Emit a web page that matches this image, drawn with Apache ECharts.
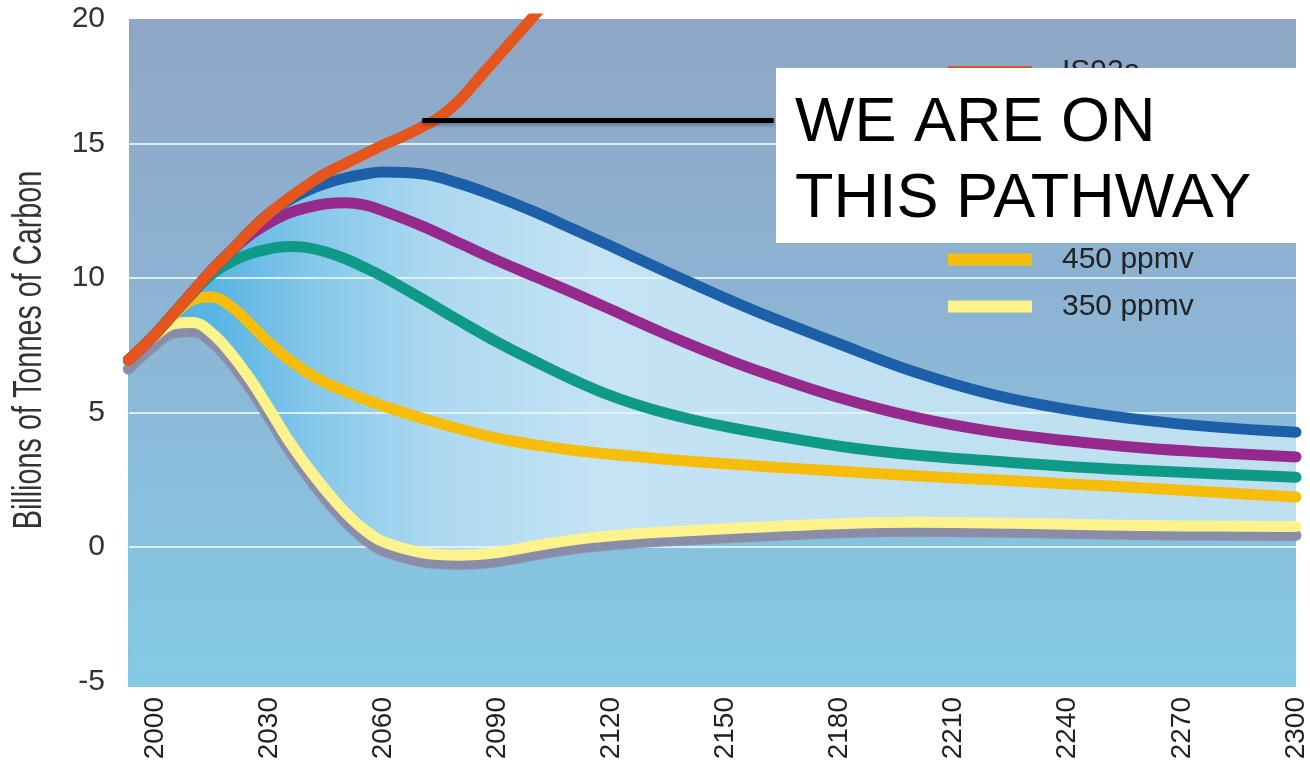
<!DOCTYPE html>
<html>
<head>
<meta charset="utf-8">
<title>Carbon emission pathways</title>
<script src="https://cdn.jsdelivr.net/npm/echarts@6/dist/echarts.min.js"></script>
<style>
  html, body { margin: 0; padding: 0; background: #ffffff; }
  #chart { width: 1310px; height: 765px; }
</style>
</head>
<body>
<div id="chart"></div>
<script>
// Sample years shared by the stabilisation scenarios
const years = [1993, 2000, 2005, 2010, 2015, 2020, 2025, 2030, 2035, 2040, 2045, 2050, 2055, 2060,
               2070, 2080, 2090, 2100, 2110, 2120, 2130, 2140, 2150, 2160,
               2180, 2200, 2220, 2240, 2260, 2280, 2300];

// Emissions (billions of tonnes of carbon per year) for each stabilisation level
const ppmv350 = [6.95, 7.85, 8.3, 8.35, 7.95, 7.2, 6.25, 5.15, 4.0, 3.0, 2.1, 1.3, 0.65, 0.2,
                 -0.2, -0.3, -0.2, 0.05, 0.27, 0.42, 0.53, 0.61, 0.68, 0.75,
                 0.87, 0.92, 0.9, 0.85, 0.8, 0.78, 0.77];
const ppmv450 = [6.95, 7.9, 8.65, 9.2, 9.3, 8.95, 8.3, 7.6, 7.0, 6.5, 6.1, 5.8, 5.5, 5.25,
                 4.8, 4.4, 4.05, 3.8, 3.6, 3.45, 3.32, 3.2, 3.1, 3.0,
                 2.82, 2.65, 2.5, 2.35, 2.2, 2.03, 1.86];
const ppmv550 = [6.95, 7.9, 8.7, 9.45, 10.15, 10.6, 10.9, 11.08, 11.17, 11.13, 10.97, 10.72, 10.4, 10.05,
                 9.25, 8.42, 7.62, 6.9, 6.22, 5.62, 5.15, 4.78, 4.48, 4.22,
                 3.75, 3.42, 3.2, 3.0, 2.85, 2.72, 2.6];
const ppmv650 = [6.95, 7.9, 8.7, 9.5, 10.3, 11.0, 11.6, 12.05, 12.4, 12.62, 12.76, 12.8, 12.72, 12.5,
                 11.95, 11.3, 10.65, 10.05, 9.45, 8.82, 8.18, 7.57, 7.0, 6.48,
                 5.55, 4.82, 4.3, 3.95, 3.68, 3.5, 3.35];
const ppmv750 = [6.95, 7.9, 8.7, 9.5, 10.3, 11.0, 11.75, 12.4, 12.88, 13.25, 13.52, 13.72, 13.86, 13.94,
                 13.88, 13.52, 13.02, 12.45, 11.82, 11.18, 10.52, 9.88, 9.25, 8.65,
                 7.55, 6.5, 5.68, 5.12, 4.72, 4.45, 4.27];

// Business-as-usual scenario (runs off the top of the scale)
const is92aYears = [1993, 2000, 2005, 2010, 2015, 2020, 2025, 2030, 2035, 2040, 2045, 2050, 2055, 2060,
                    2065, 2070, 2075, 2080, 2085, 2090, 2095, 2100, 2105];
const is92a = [6.95, 7.9, 8.7, 9.5, 10.3, 11.0, 11.75, 12.4, 12.95, 13.45, 13.9, 14.25, 14.6, 14.95,
               15.25, 15.6, 16.0, 16.6, 17.4, 18.2, 19.0, 19.8, 20.6];

// Axis ticks
const xTicks = [2000, 2030, 2060, 2090, 2120, 2150, 2180, 2210, 2240, 2270, 2300];
const yTicks = [-5, 0, 5, 10, 15, 20];
const gridValues = [0, 5, 10, 15];

// Callout
const calloutLines = ['WE ARE ON', 'THIS PATHWAY'];
const calloutPoint = [2070.3, 15.87];
const calloutEnd = [2162.7, 15.87];

const X_MIN = 1993.2, X_MAX = 2300;
const Y_MIN = -5.2, Y_MAX = 19.63;

const FONT = "'Liberation Sans', Arial, Helvetica, sans-serif";
const SMOOTH = 0.4;

const pairs = (xs, ys) => xs.map((x, i) => [x, ys[i]]);

const colors = {
  is92a: '#e4561e',
  p750: '#1d5fa8',
  p650: '#952a8c',
  p550: '#0f9a88',
  p450: '#f6bd0b',
  p350: '#fdf38c',
  shadow: '#8a8da8'
};

// Plot background, also reused to mask the fan below the lowest pathway
const bgStops = [
  { offset: 0, color: '#8fa6c6' },
  { offset: 0.4, color: '#8db3d2' },
  { offset: 0.72, color: '#89c0dc' },
  { offset: 1, color: '#84cae3' }
];
const GRID = { left: 129, right: 13, top: 19, bottom: 78 };
const CHART_H = 765;

const LW = 11;

function lineSeries(name, data, color, z, extra) {
  return Object.assign({
    name: name,
    type: 'line',
    data: data,
    smooth: SMOOTH,
    showSymbol: false,
    symbol: 'none',
    z: z,
    itemStyle: { color: color },
    lineStyle: { color: color, width: LW, cap: 'round', join: 'round' },
    emphasis: { disabled: true },
    clip: true
  }, extra || {});
}

function fillSeries(name, data, fill, z, extra) {
  return Object.assign({
    name: name,
    type: 'line',
    data: data,
    smooth: SMOOTH,
    showSymbol: false,
    symbol: 'none',
    silent: true,
    z: z,
    lineStyle: { width: 1, opacity: 0 },
    itemStyle: { color: 'transparent' },
    areaStyle: { origin: 'start', opacity: 1, color: fill },
    emphasis: { disabled: true },
    clip: true
  }, extra || {});
}

const chart = echarts.init(document.getElementById('chart'), null, { renderer: 'canvas' });

const option = {
  animation: false,
  backgroundColor: '#ffffff',
  grid: {
    left: GRID.left, right: GRID.right, top: GRID.top, bottom: GRID.bottom,
    show: true,
    borderWidth: 0,
    backgroundColor: {
      type: 'linear', x: 0, y: 0, x2: 0, y2: 1,
      colorStops: bgStops
    }
  },
  xAxis: {
    type: 'value',
    min: X_MIN, max: X_MAX,
    axisLine: { show: false },
    axisTick: { show: false },
    splitLine: { show: false },
    axisLabel: {
      customValues: xTicks,
      rotate: 90,
      margin: 10,
      color: '#222',
      fontFamily: FONT,
      fontSize: 28,
      formatter: v => String(Math.round(v))
    }
  },
  yAxis: {
    type: 'value',
    min: Y_MIN, max: Y_MAX,
    axisLine: { show: false },
    axisTick: { show: false },
    splitLine: { show: false },
    axisLabel: {
      customValues: yTicks.map(v => Math.min(Math.max(v, Y_MIN), Y_MAX)),
      margin: 24,
      color: '#333',
      fontFamily: FONT,
      fontSize: 30,
      formatter: v => String(Math.round(v / 5) * 5)
    }
  },
  legend: {
    orient: 'vertical',
    left: 948,
    top: 57,
    padding: 0,
    itemWidth: 84,
    itemHeight: 12,
    itemGap: 16.9,
    icon: 'rect',
    data: ['IS92a', '750 ppmv', '650 ppmv', '550 ppmv', '450 ppmv', '350 ppmv'],
    itemStyle: { shadowBlur: 0, shadowOffsetY: 0, shadowColor: 'transparent', borderWidth: 0 },
    lineStyle: { shadowBlur: 0, shadowOffsetY: 0, shadowColor: 'transparent' },
    textStyle: {
      color: '#222',
      fontFamily: FONT,
      fontSize: 30,
      lineHeight: 30,
      padding: [0, 0, 0, 25]
    },
    selectedMode: false
  },
  graphic: [
    {
      type: 'text',
      x: 30, y: 350,
      rotation: Math.PI / 2,
      scaleX: 0.72,
      z: 10,
      style: {
        text: 'Billions of Tonnes of Carbon',
        font: "40px " + FONT,
        fill: '#333',
        align: 'center',
        verticalAlign: 'middle'
      }
    },
    {
      type: 'group',
      z: 100,
      children: [
        {
          type: 'rect',
          shape: { x: 776, y: 68, width: 534, height: 175 },
          style: { fill: '#ffffff' },
          z: 100
        },
        {
          type: 'text',
          z: 101,
          style: {
            x: 795, y: 124,
            text: calloutLines[0],
            font: "63px " + FONT,
            fill: '#000',
            verticalAlign: 'middle'
          }
        },
        {
          type: 'text',
          z: 101,
          style: {
            x: 795, y: 200,
            text: calloutLines[1],
            font: "63px " + FONT,
            fill: '#000',
            verticalAlign: 'middle'
          }
        }
      ]
    }
  ],
  series: [
    // Shaded fan: fill below the highest pathway ...
    fillSeries('fanTop', pairs(years, ppmv750), {
      type: 'linear', x: 0, y: 0, x2: 1, y2: 0,
      colorStops: [
        { offset: 0, color: '#4aaee0' },
        { offset: 0.08, color: '#5cb6e3' },
        { offset: 0.16, color: '#86c8ea' },
        { offset: 0.26, color: '#acd8f0' },
        { offset: 0.4, color: '#c4e3f4' },
        { offset: 1, color: '#bddff0' }
      ]
    }, 2),
    // ... then restore the plot background below the lowest pathway
    fillSeries('fanCut', pairs(years, ppmv350), {
      type: 'linear', global: true,
      x: 0, y: GRID.top, x2: 0, y2: CHART_H - GRID.bottom,
      colorStops: bgStops
    }, 2, {
      markLine: {
        silent: true,
        symbol: 'none',
        z: 3,
        label: { show: false },
        lineStyle: { color: 'rgba(225,246,250,0.9)', width: 2, type: 'solid' },
        data: gridValues.map(v => ({ yAxis: v }))
      }
    }),
    lineSeries('350 ppmv', pairs(years, ppmv350), colors.p350, 4, {
      lineStyle: {
        color: colors.p350, width: LW, cap: 'round', join: 'round',
        shadowColor: colors.shadow, shadowBlur: 1, shadowOffsetY: 9
      }
    }),
    lineSeries('450 ppmv', pairs(years, ppmv450), colors.p450, 4),
    lineSeries('550 ppmv', pairs(years, ppmv550), colors.p550, 4),
    lineSeries('650 ppmv', pairs(years, ppmv650), colors.p650, 4),
    lineSeries('750 ppmv', pairs(years, ppmv750), colors.p750, 4),
    lineSeries('IS92a', pairs(is92aYears, is92a), colors.is92a, 5, {
      markLine: {
        silent: true,
        symbol: 'none',
        z: 6,
        label: { show: false },
        lineStyle: {
          color: '#000', width: 5, type: 'solid',
          shadowColor: 'rgba(0,0,0,0.35)', shadowBlur: 4, shadowOffsetY: 2
        },
        data: [[{ coord: calloutPoint }, { coord: calloutEnd }]]
      }
    })
  ]
};

chart.setOption(option);
</script>
</body>
</html>
